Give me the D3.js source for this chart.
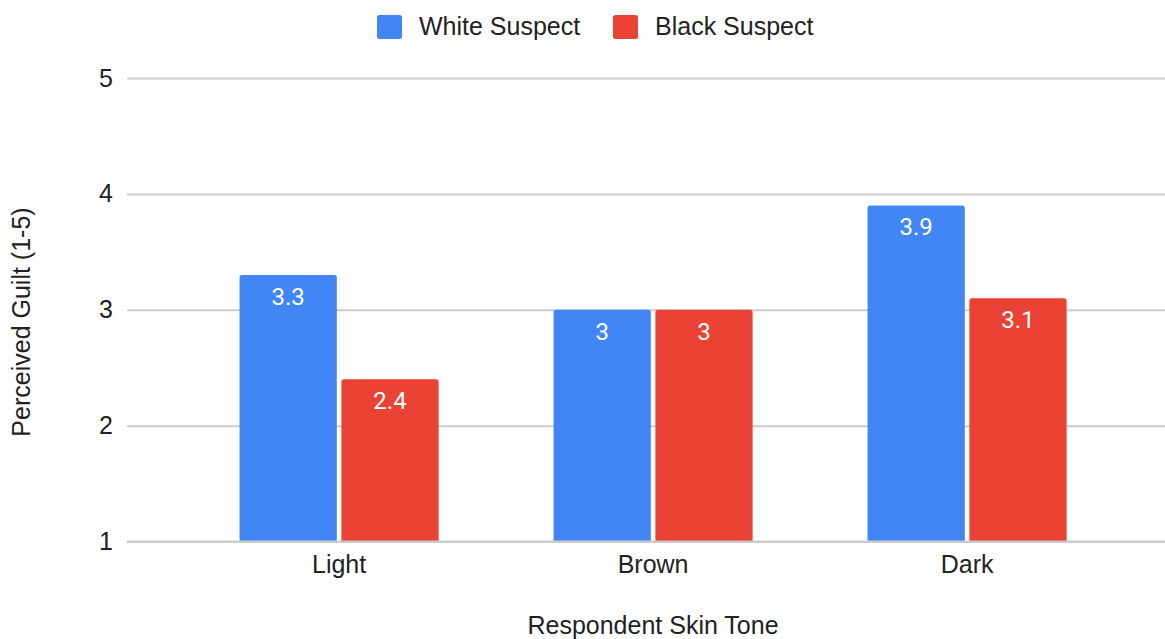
<!DOCTYPE html>
<html>
<head>
<meta charset="utf-8">
<script src="https://cdn.jsdelivr.net/npm/d3@7"></script>
<style>
  html, body { margin: 0; padding: 0; background: #fff; }
  svg { display: block; }
</style>
</head>
<body>
<script>
// Perceived guilt ratings by respondent skin tone and suspect race
const categories = ["Light", "Brown", "Dark"];
const seriesNames = ["White Suspect", "Black Suspect"];
const whiteSuspect = [3.3, 3, 3.9];
const blackSuspect = [2.4, 3, 3.1];
const yTicks = [1, 2, 3, 4, 5];
const colors = ["#4285F4", "#EA4335"];

const W = 1165, H = 639;
const svg = d3.select("body").append("svg").attr("width", W).attr("height", H);

const gridLeft = 127, gridRight = 1165;
const y = d3.scaleLinear().domain([1, 5]).range([541.5, 78]);

const x0 = d3.scaleBand().domain(categories).range([182.1, 1124.1])
  .paddingInner(0.366).paddingOuter(0.183);
const x1 = d3.scaleBand().domain(seriesNames).range([0, x0.bandwidth()])
  .paddingInner(0.045);

const seriesValues = [whiteSuspect, blackSuspect];
const rows = categories.map((c, i) => ({
  cat: c,
  vals: seriesNames.map((s, j) => ({ series: s, value: seriesValues[j][i], color: colors[j] }))
}));

const axisFont = "Arial, 'Liberation Sans', sans-serif";
const fs = 25;

// Gridlines and y tick labels
const yAxis = d3.axisLeft(y).tickValues(yTicks).tickSize(-(gridRight - gridLeft)).tickPadding(14).tickFormat(d3.format("d"));
const gy = svg.append("g").attr("transform", `translate(${gridLeft},0)`).call(yAxis);
gy.select(".domain").remove();
gy.selectAll(".tick line").attr("stroke", "#cccccc").attr("stroke-width", 2);
gy.selectAll(".tick text").attr("font-family", axisFont).attr("font-size", fs).attr("fill", "#222");

// Bars
const groups = svg.append("g").selectAll("g").data(rows).join("g")
  .attr("transform", d => `translate(${x0(d.cat)},0)`);

function topRoundedRect(x, yTop, w, h, r) {
  return `M${x},${yTop + h}V${yTop + r}Q${x},${yTop} ${x + r},${yTop}H${x + w - r}Q${x + w},${yTop} ${x + w},${yTop + r}V${yTop + h}Z`;
}

groups.selectAll("path").data(d => d.vals).join("path")
  .attr("d", d => topRoundedRect(x1(d.series), y(d.value), x1.bandwidth(), y(1) - y(d.value), 2.5))
  .attr("fill", d => d.color);

groups.selectAll("text").data(d => d.vals).join("text")
  .attr("x", d => x1(d.series) + x1.bandwidth() / 2)
  .attr("y", d => y(d.value) + 30)
  .attr("text-anchor", "middle")
  .attr("font-family", "Roboto, Arial, sans-serif")
  .attr("font-size", 24)
  .attr("fill", "#fff")
  .text(d => d.value);

// Baseline at 1 redrawn over bars
svg.append("line").attr("x1", gridLeft).attr("x2", gridRight)
  .attr("y1", y(1)).attr("y2", y(1)).attr("stroke", "#cccccc").attr("stroke-width", 2);

// X axis labels
const xAxis = d3.axisBottom(x0).tickSize(0).tickPadding(14);
const gx = svg.append("g").attr("transform", `translate(0,${y(1)})`).call(xAxis);
gx.select(".domain").remove();
gx.selectAll(".tick text").attr("font-family", axisFont).attr("font-size", fs).attr("fill", "#222");

// Axis titles
svg.append("text").attr("x", 653).attr("y", 634).attr("text-anchor", "middle")
  .attr("font-family", axisFont).attr("font-size", fs).attr("fill", "#222")
  .text("Respondent Skin Tone");

svg.append("text").attr("transform", "translate(30,322) rotate(-90)").attr("text-anchor", "middle")
  .attr("font-family", axisFont).attr("font-size", fs).attr("fill", "#222")
  .text("Perceived Guilt (1-5)");

// Legend
const legendX = [377, 613];
const legend = svg.append("g").selectAll("g").data(seriesNames).join("g")
  .attr("transform", (d, i) => `translate(${legendX[i]},15)`);
legend.append("rect").attr("width", 25).attr("height", 24).attr("rx", 2.5)
  .attr("fill", (d, i) => colors[i]);
legend.append("text").attr("x", 42).attr("y", 20)
  .attr("font-family", axisFont).attr("font-size", fs).attr("fill", "#222")
  .text(d => d);
</script>
</body>
</html>
